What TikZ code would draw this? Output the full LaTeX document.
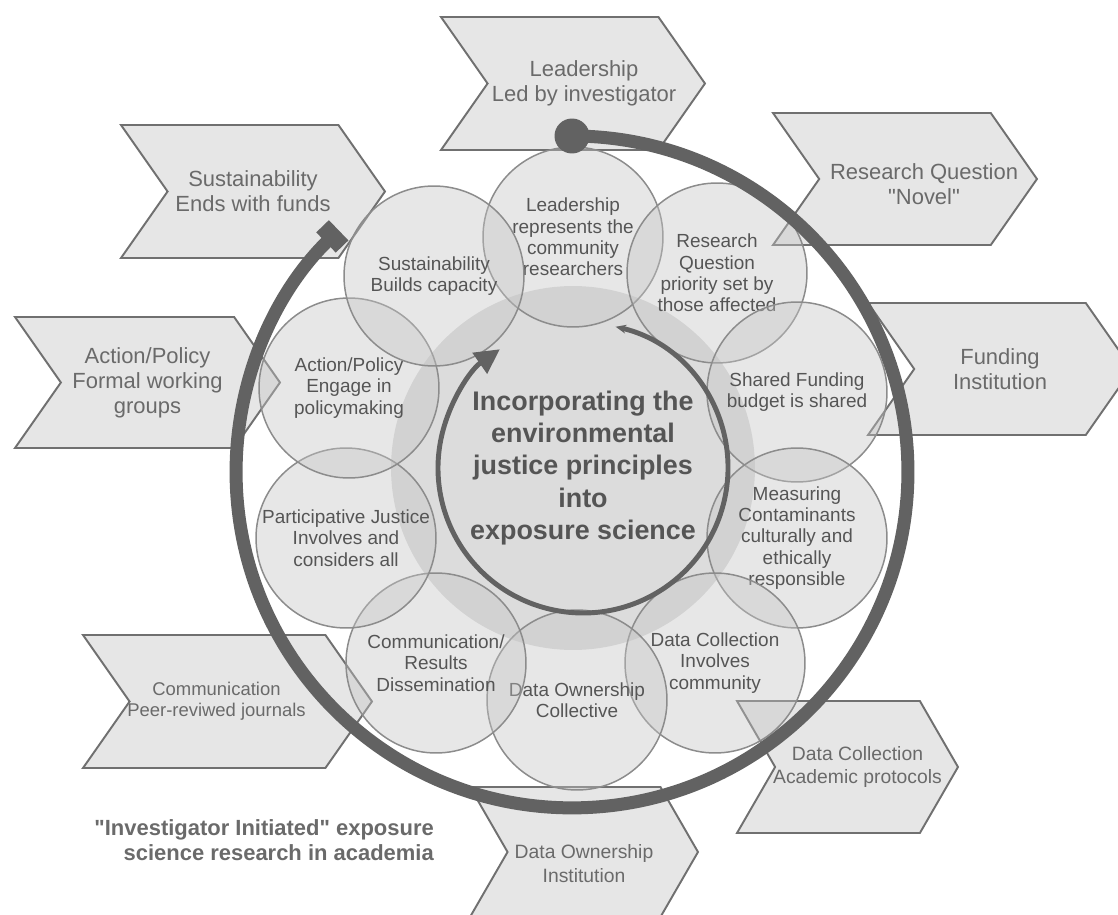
\documentclass[tikz,border=0pt]{standalone}
\usepackage{fontspec}
\setmainfont{Liberation Sans}
\usepackage{tikz}
\usetikzlibrary{arrows.meta,shapes}
\definecolor{chevfill}{HTML}{E6E6E6}
\definecolor{chevline}{HTML}{707070}
\definecolor{bubfill}{HTML}{C4C4C4}
\definecolor{bubline}{HTML}{8C8C8C}
\definecolor{hubfill}{HTML}{DCDCDC}
\definecolor{loopgray}{HTML}{626262}
\definecolor{labgray}{HTML}{6A6A6A}
\definecolor{bubtext}{HTML}{555555}
\tikzstyle{chevron}=[signal,signal from=west,signal to=east,signal pointer angle=110,draw=chevline,line width=1.1pt,fill=chevfill,text=labgray,align=center,inner ysep=0pt,inner xsep=-2cm,minimum height=2.66cm,minimum width=5.28cm,font=\fontsize{12.5}{14.2}\selectfont]
\tikzstyle{chevlabel}=[text=labgray,align=center,font=\fontsize{12.5}{14.2}\selectfont]
\tikzstyle{bubble}=[circle,draw=bubline,line width=0.85pt,fill=bubfill,fill opacity=0.4,text opacity=1,text=bubtext,align=center,inner sep=0pt,minimum size=3.6cm,font=\fontsize{10.8}{12.2}\selectfont]
\tikzstyle{hub}=[circle,minimum size=5.8cm,inner sep=0pt,align=center,text=bubtext,font=\fontsize{15.3}{18.4}\selectfont\bfseries]
\tikzstyle{dot}=[circle,fill=loopgray,minimum size=0.7cm,inner sep=0pt]
\tikzstyle{loop}=[draw=loopgray,line width=7.4pt]

\begin{document}
\begin{tikzpicture}[x=0.02cm,y=-0.02cm]
    \useasboundingbox (0,0) rectangle (1118,915);
    \fill[hubfill] (573,468) circle[radius=3.64cm];
    \node[chevron,label={[chevlabel,xshift=0.22cm]center:{Leadership\\Led by investigator}}] (leadchev) at (573,83.5) {};
    \node[chevron,minimum height=2.64cm,label={[chevlabel,xshift=0.38cm,yshift=-0.1cm]center:{Research Question\\\textquotedbl Novel\textquotedbl}}] (rqchev) at (905,179) {};
    \node[chevron,minimum height=2.64cm] (fundchev) at (1000,369) {Funding\\Institution};
    \node[chevron,signal pointer angle=120,minimum height=2.64cm,minimum width=4.42cm,label={[chevlabel,xshift=0.2cm,font=\fontsize{11}{13.6}\selectfont]center:{Data Collection\\Academic protocols}}] (collchev) at (847.5,767) {};
    \node[chevron,signal pointer angle=120,minimum height=2.6cm,minimum width=4.56cm,label={[chevlabel,yshift=-0.24cm,font=\fontsize{11}{13.6}\selectfont]center:{Data Ownership\\Institution}}] (ownchev) at (584,852) {};
    \node[chevron,minimum width=5.78cm,label={[chevlabel,xshift=-0.22cm,font=\fontsize{10.5}{11.9}\selectfont]center:{Communication\\Peer-reviwed journals}}] (commchev) at (227.5,701.5) {};
    \node[chevron,minimum height=2.62cm,minimum width=5.3cm] (actchev) at (147.5,382.5) {Action/Policy\\Formal working\\groups};
    \node[chevron] (suschev) at (253,191.5) {Sustainability\\Ends with funds};
    \foreach \pos/\name/\words in {{(573,237)/lead/{Leadership\\represents the\\community\\researchers}},
        {(717,273)/rq/{Research\\Question\\priority set by\\those affected}},
        {(797,392)/fund/{Shared Funding\\budget is shared}},
        {(797,538)/meas/{Measuring\\Contaminants\\culturally and\\ethically\\responsible}},
        {(715,663)/coll/{Data Collection\\Involves\\community}},
        {(577,700)/own/{Data Ownership\\Collective}},
        {(436,663)/comm/{Communication/\\Results\\Dissemination}},
        {(346,538)/part/{Participative Justice\\Involves and\\considers all}},
        {(349,388)/act/{Action/Policy\\Engage in\\policymaking}},
        {(434,276)/sus/{Sustainability\\Builds capacity}}}
        \node[bubble] (\name) at \pos {\words};
    \node[hub] (core) at (583,468) {Incorporating the\\environmental\\justice principles\\into\\exposure science};
    \draw[loopgray,line width=2.8pt,{Stealth[length=6pt,width=5pt]}-{Triangle[length=14pt,width=14pt]}] (core.center) ++(77:2.9cm) arc[start angle=77,end angle=-235,radius=2.9cm];
    \node[dot] (start) at (572,136) {};
    \path[loop,-{Rectangle[length=10pt,width=16pt]}] (start.center) arc[start angle=90,end angle=-226,radius=6.72cm];
    \node[anchor=east,align=right,text=labgray,font=\fontsize{12.5}{14.2}\selectfont\bfseries] (tagline) at (440,840) {\textquotedbl Investigator Initiated\textquotedbl{} exposure\\science research in academia};
\end{tikzpicture}
\end{document}
